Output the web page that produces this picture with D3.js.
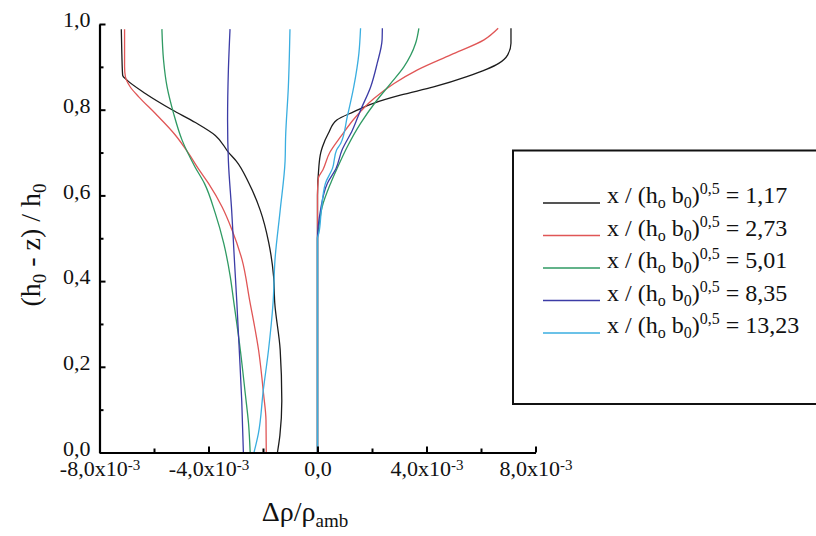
<!DOCTYPE html>
<html>
<head>
<meta charset="utf-8">
<script src="https://cdn.jsdelivr.net/npm/d3@7"></script>
</head>
<body style="margin:0;padding:0;background:#fff">
<svg id="chart" width="816" height="536" style="display:block"></svg>
<script>
// Density anomaly profiles, values in units of 1e-3, heights as (h0 - z)/h0.
// Each series has a left (negative) branch and a right (positive) branch: [value, height].
const seriesLabels = ["1,17", "2,73", "5,01", "8,35", "13,23"];
const seriesColors = ["#1c1c1c", "#e05656", "#2f9a63", "#3c3ca6", "#3aaee0"];

const blackLeft = [[-1.47,0.00],[-1.38,0.04],[-1.31,0.12],[-1.37,0.24],[-1.57,0.35],[-1.61,0.41],[-1.79,0.49],[-2.10,0.565],[-2.53,0.63],[-2.98,0.68],[-3.26,0.70],[-3.75,0.74],[-4.48,0.77],[-5.34,0.80],[-6.32,0.838],[-6.99,0.869],[-7.15,0.88],[-7.18,0.93],[-7.20,0.988]];
const blackRight = [[0,0.00],[0,0.60],[0.05,0.667],[0.12,0.70],[0.18,0.713],[0.40,0.745],[0.71,0.776],[1.32,0.795],[2.05,0.815],[3.04,0.834],[4.26,0.853],[5.48,0.877],[6.65,0.908],[6.98,0.928],[7.10,0.955],[7.10,0.99]];

const redLeft = [[-1.88,0.00],[-1.89,0.075],[-1.98,0.137],[-2.16,0.238],[-2.49,0.355],[-2.77,0.45],[-3.14,0.52],[-3.50,0.573],[-4.00,0.628],[-4.38,0.663],[-4.73,0.698],[-5.22,0.741],[-5.95,0.791],[-6.56,0.83],[-6.87,0.853],[-7.05,0.877],[-7.08,0.90],[-7.08,0.988]];
const redRight = [[0,0.00],[0,0.60],[0.03,0.64],[0.20,0.66],[0.45,0.70],[0.85,0.737],[1.40,0.783],[2.07,0.826],[2.81,0.861],[3.67,0.893],[4.89,0.928],[6.11,0.963],[6.63,0.99]];

const greenLeft = [[-2.47,0.00],[-2.53,0.067],[-2.65,0.137],[-2.83,0.238],[-3.08,0.355],[-3.20,0.41],[-3.44,0.488],[-3.75,0.558],[-4.15,0.628],[-4.50,0.667],[-4.97,0.729],[-5.28,0.791],[-5.52,0.853],[-5.65,0.916],[-5.71,0.988]];
const greenRight = [[0,0.00],[0,0.50],[0.05,0.526],[0.17,0.573],[0.48,0.628],[0.72,0.663],[1.09,0.713],[1.58,0.768],[2.13,0.818],[2.68,0.861],[3.17,0.90],[3.60,0.955],[3.72,0.99]];

const blueLeft = [[-2.72,0.00],[-2.78,0.12],[-2.87,0.238],[-2.96,0.35],[-3.05,0.45],[-3.15,0.565],[-3.27,0.68],[-3.30,0.776],[-3.27,0.893],[-3.21,0.988]];
const blueRight = [[0,0.00],[0,0.50],[0.11,0.565],[0.36,0.628],[0.68,0.663],[0.90,0.706],[1.28,0.752],[1.58,0.799],[1.95,0.853],[2.19,0.908],[2.37,0.963],[2.38,0.99]];

const cyanLeft = [[-2.33,0.00],[-2.17,0.044],[-1.99,0.145],[-1.80,0.238],[-1.63,0.35],[-1.56,0.45],[-1.37,0.565],[-1.19,0.68],[-1.17,0.737],[-1.07,0.853],[-1.01,0.988]];
const cyanRight = [[0,0.00],[0,0.50],[0.05,0.512],[0.14,0.565],[0.29,0.628],[0.55,0.663],[0.70,0.706],[0.85,0.721],[1.09,0.783],[1.33,0.853],[1.52,0.932],[1.58,0.99]];

const branches = [
  [blackLeft, blackRight],
  [redLeft, redRight],
  [greenLeft, greenRight],
  [blueLeft, blueRight],
  [cyanLeft, cyanRight]
];

const xMajorTicks = [-8, -4, 0, 4, 8];
const xMinorTicks = [-6, -2, 2, 6];
const yMajorTicks = [0, 0.2, 0.4, 0.6, 0.8, 1.0];
const yMinorTicks = [0.1, 0.3, 0.5, 0.7, 0.9];

const FONT = "'Liberation Serif', Tinos, 'Times New Roman', serif";

const svg = d3.select("#chart").style("font-family", FONT);

const x = d3.scaleLinear().domain([-8, 8]).range([99.5, 535.5]);
const y = d3.scaleLinear().domain([0, 1]).range([452.5, 24]);

const comma = v => d3.format(".1f")(v).replace(".", ",").replace("\u2212", "-");

// Curves
const line = d3.line()
  .x(d => x(d[0]))
  .y(d => y(d[1]))
  .curve(d3.curveMonotoneY);

const curves = svg.append("g").attr("fill", "none").attr("stroke-width", 1.3);
branches.forEach((pair, i) => {
  pair.forEach(branch => {
    curves.append("path")
      .attr("d", line(branch))
      .attr("stroke", seriesColors[i]);
  });
});

// Y axis (ticks pointing inward)
const yAxisG = svg.append("g").attr("transform", `translate(${x(-8)},0)`);
yAxisG.call(d3.axisLeft(y).tickValues(yMajorTicks).tickSize(-6).tickSizeOuter(0).tickPadding(9).tickFormat(comma));
const yMinorG = svg.append("g").attr("transform", `translate(${x(-8)},0)`)
  .call(d3.axisLeft(y).tickValues(yMinorTicks).tickSize(-4).tickSizeOuter(0).tickFormat(""));
yMinorG.select(".domain").remove();
yMinorG.selectAll("text").remove();

// X axis (ticks pointing inward)
const xAxisG = svg.append("g").attr("transform", `translate(0,${y(0)})`);
xAxisG.call(d3.axisBottom(x).tickValues(xMajorTicks).tickSize(-6).tickSizeOuter(0).tickPadding(8).tickFormat(""));
const xMinorG = svg.append("g").attr("transform", `translate(0,${y(0)})`)
  .call(d3.axisBottom(x).tickValues(xMinorTicks).tickSize(-4).tickSizeOuter(0).tickFormat(""));
xMinorG.select(".domain").remove();
xMinorG.selectAll("text").remove();

svg.selectAll(".domain").attr("stroke", "#000").attr("stroke-width", 2.2);
svg.selectAll(".tick line").attr("stroke", "#000").attr("stroke-width", 2);

yAxisG.selectAll(".tick text")
  .style("font-family", FONT)
  .style("font-size", "22px")
  .attr("fill", "#111")
  .attr("dy", "0.12em");

// X tick labels with the x10^-3 factor
xAxisG.selectAll(".tick").each(function(d) {
  const t = d3.select(this).select("text")
    .style("font-family", FONT)
    .style("font-size", "22px")
    .attr("fill", "#111");
  t.text(null);
  if (d === 0) {
    t.append("tspan").text("0,0");
  } else {
    t.append("tspan").text(comma(d) + "x10");
    t.append("tspan").style("font-size", "15px").attr("dy", -6).text("-3");
  }
});

// Axis titles
const xTitle = svg.append("text")
  .attr("x", 305).attr("y", 521)
  .attr("text-anchor", "middle")
  .style("font-family", FONT)
  .style("font-size", "28px")
  .attr("fill", "#111");
xTitle.append("tspan").text("\u0394\u03c1/\u03c1");
xTitle.append("tspan").style("font-size", "19px").attr("dy", 6).text("amb");

const yTitle = svg.append("text")
  .attr("transform", "translate(40,245) rotate(-90)")
  .attr("text-anchor", "middle")
  .style("font-family", FONT)
  .style("font-size", "28px")
  .attr("fill", "#111");
yTitle.append("tspan").text("(h");
yTitle.append("tspan").style("font-size", "19px").attr("dy", 6).text("0");
yTitle.append("tspan").attr("dy", -6).text(" - z) / h");
yTitle.append("tspan").style("font-size", "19px").attr("dy", 6).text("0");

// Legend
const legend = svg.append("g");
legend.append("rect")
  .attr("x", 513).attr("y", 150.5)
  .attr("width", 320).attr("height", 253.5)
  .attr("fill", "none").attr("stroke", "#111").attr("stroke-width", 2);

seriesLabels.forEach((lab, i) => {
  const by = 203 + i * 32.5;
  legend.append("line")
    .attr("x1", 543).attr("x2", 600)
    .attr("y1", by).attr("y2", by)
    .attr("stroke", seriesColors[i]).attr("stroke-width", 1.3);
  const t = legend.append("text")
    .attr("x", 607).attr("y", by)
    .style("font-family", FONT)
    .style("font-size", "24px")
    .attr("fill", "#111");
  t.append("tspan").text("x / (h");
  t.append("tspan").style("font-size", "16px").attr("dy", 5).text("o");
  t.append("tspan").attr("dy", -5).text(" b");
  t.append("tspan").style("font-size", "16px").attr("dy", 5).text("0");
  t.append("tspan").attr("dy", -5).text(")");
  t.append("tspan").style("font-size", "16px").attr("dy", -9).text("0,5");
  t.append("tspan").attr("dy", 9).text(" = " + lab);
});
</script>
</body>
</html>
